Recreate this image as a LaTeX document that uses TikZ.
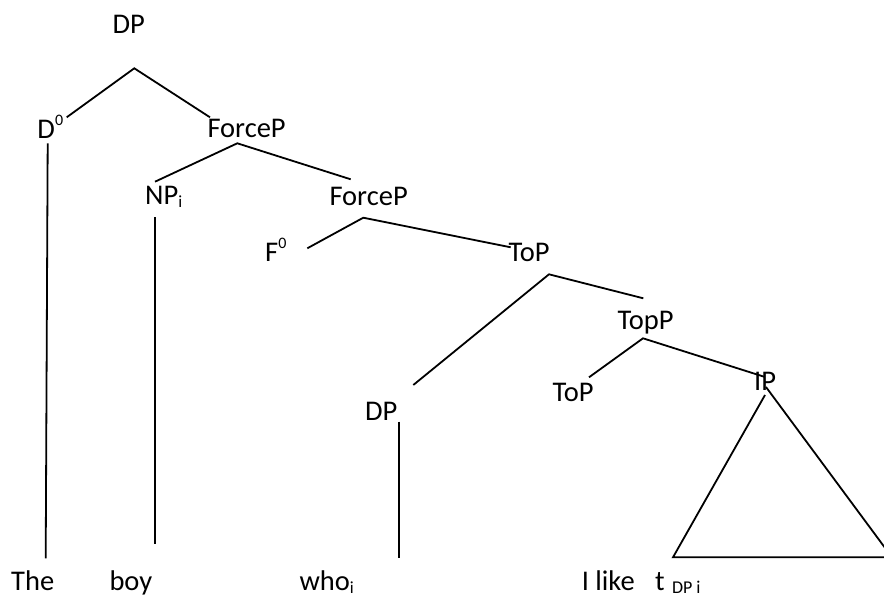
\documentclass[tikz,border=0pt]{standalone}
\usepackage{fontspec}
\setmainfont{Carlito}
\newcommand{\bigfont}{\fontsize{28.5}{34}\selectfont}
\newcommand{\supfont}{\fontsize{16}{18}\selectfont}
\newcommand{\subfont}{\fontsize{17}{19}\selectfont}
\newcommand{\tsubfont}{\fontsize{18}{20}\selectfont}
\newcommand{\mysup}[1]{\raisebox{13pt}{\supfont #1}}
\newcommand{\mysub}[1]{\raisebox{-2.5pt}{\subfont #1}}
\begin{document}
\begin{tikzpicture}[x=1pt,y=-1pt,
  lab/.style={anchor=base west,inner sep=0pt,outer sep=0pt,font=\bigfont},
  small/.style={anchor=base west,inner sep=0pt,outer sep=0pt,font=\tsubfont},
  branch/.style={line width=1.8pt,black}]
\useasboundingbox (0,0) rectangle (884,597);
\clip (0,0) rectangle (884,597);
% labels
\node[lab] (dp1) at (112.5,33) {DP};
\node[lab] (d0) at (37.5,138.3) {D\mysup{0}};
\node[lab] (force1) at (207.5,137.3) {ForceP};
\node[lab] (np) at (145.2,204.5) {NP\mysub{i}};
\node[lab] (force2) at (329.5,205) {ForceP};
\node[lab] (f0) at (265.2,261.7) {F\mysup{0}};
\node[lab] (top1) at (508.5,261.7) {ToP};
\node[lab] (topp) at (617.5,329.3) {TopP};
\node[lab] (top2) at (552.5,401) {ToP};
\node[lab] (ip) at (754.2,390.7) {IP};
\node[lab] (dp2) at (365.2,420) {DP};
\node[lab] (the) at (11.2,590.5) {The};
\node[lab] (boy) at (109.5,590.5) {boy};
\node[lab] (who) at (299.5,590.5) {who\mysub{i}};
\node[lab] (ilike) at (581.8,590.7) {I like};
\node[lab] (t) at (655.2,590.7) {t};
\node[small] (tsub) at (672,593) {DP i};
% branch end points
\coordinate (a1) at (134.3,68.3);
\coordinate (a1l) at (66.7,117.3);
\coordinate (a1r) at (210,117.3);
\coordinate (dl1) at (47.7,143.3);
\coordinate (dl2) at (45.7,558.3);
\coordinate (a2) at (237.3,143.3);
\coordinate (a2l) at (155,181.7);
\coordinate (a2r) at (350.7,179.3);
\coordinate (nl1) at (155.3,217.3);
\coordinate (nl2) at (155.3,544);
\coordinate (a3) at (363.3,217.7);
\coordinate (a3l) at (307.3,248.3);
\coordinate (a3r) at (510.7,247.3);
\coordinate (a4) at (549,274.3);
\coordinate (a4l) at (413.3,385);
\coordinate (a4r) at (643.3,298.3);
\coordinate (wl1) at (399,421.7);
\coordinate (wl2) at (399,558.3);
\coordinate (a5) at (643,338.3);
\coordinate (a5l) at (589,377.3);
\coordinate (a5r) at (764,376.7);
\coordinate (tr1) at (765,395);
\coordinate (tr2) at (673,557.3);
\coordinate (tr3) at (892,557.3);
\coordinate (tr4) at (766,387);
% branches
\draw[branch] (a1l) -- (a1) -- (a1r);
\draw[branch] (dl1) -- (dl2);
\draw[branch] (a2l) -- (a2) -- (a2r);
\draw[branch] (nl1) -- (nl2);
\draw[branch] (a3l) -- (a3) -- (a3r);
\draw[branch] (a4l) -- (a4) -- (a4r);
\draw[branch] (wl1) -- (wl2);
\draw[branch] (a5l) -- (a5) -- (a5r);
\draw[branch] (tr1) -- (tr2) -- (tr3) -- (tr4);
\end{tikzpicture}
\end{document}
